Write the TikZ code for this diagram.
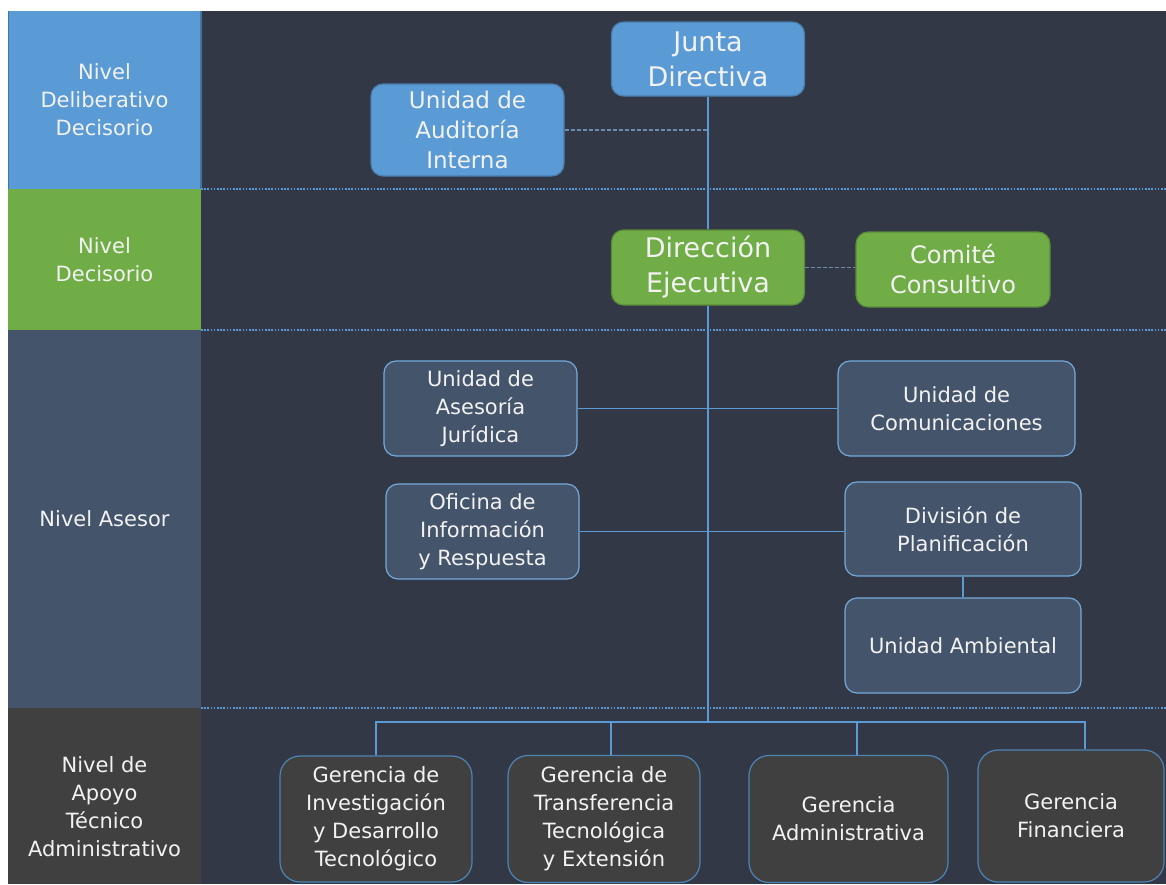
\documentclass[tikz,border=0pt]{standalone}
\usepackage{fontspec}
\setmainfont{DejaVu Sans}
\definecolor{bgc}{HTML}{323846}
\definecolor{lblue}{HTML}{5B9BD5}
\definecolor{lgreen}{HTML}{70AD47}
\definecolor{slate}{HTML}{44546A}
\definecolor{dgray}{HTML}{404040}
\definecolor{txt}{HTML}{F2F2F2}
\definecolor{dashc}{HTML}{6C8BAE}
\pgfdeclarelayer{back}
\pgfsetlayers{back,main}
\tikzset{
  box/.style={rounded corners=12, align=center, text=txt, inner sep=0pt, line width=1.2pt},
  bluebox/.style={box, fill=lblue, draw=lblue!80!black},
  greenbox/.style={box, fill=lgreen, draw=lgreen!80!black},
  slatebox/.style={box, fill=slate, draw=lblue!85!white},
  gerbox/.style={box, rounded corners=20, fill=dgray, draw=lblue!85!black},
  conn/.style={draw=lblue, line width=1.2pt},
  dashconn/.style={draw=dashc, line width=1.2pt, dash pattern=on 4pt off 2pt},
  sepline/.style={draw=lblue, line width=1.6pt, dash pattern=on 1.6pt off 1.6pt},
  lvl/.style={text=txt, align=center, font=\fontsize{21}{28}\selectfont},
  big/.style={font=\fontsize{27}{35}\selectfont},
  mid/.style={font=\fontsize{23}{30}\selectfont},
  norm/.style={font=\fontsize{21}{28}\selectfont},
}
\begin{document}
\begin{tikzpicture}[x=1pt,y=-1pt]
\useasboundingbox (0,0) rectangle (1166,884);
% nodes
\node[bluebox, big, minimum width=193, minimum height=74] (junta) at (708,59) {Junta\\Directiva};
\node[bluebox, mid, minimum width=193, minimum height=92] (audit) at (467.5,130) {Unidad de\\Auditoría\\Interna};
\node[greenbox, big, minimum width=193, minimum height=75] (direccion) at (708,267.5) {Dirección\\Ejecutiva};
\node[greenbox, font=\fontsize{24}{30}\selectfont, minimum width=194, minimum height=75] (comite) at (953,269.5) {Comité\\Consultivo};
\node[slatebox, norm, minimum width=193, minimum height=95] (juridica) at (480.5,408.5) {Unidad de\\Asesoría\\Jurídica};
\node[slatebox, norm, minimum width=237, minimum height=95] (comunic) at (956.5,408.5) {Unidad de\\Comunicaciones};
\node[slatebox, norm, minimum width=193, minimum height=95] (oficina) at (482.5,531.5) {Oficina de\\Información\\y Respuesta};
\node[slatebox, norm, minimum width=236, minimum height=94] (division) at (963,529) {División de\\Planificación};
\node[slatebox, norm, minimum width=236, minimum height=95] (ambiental) at (963,645.5) {Unidad Ambiental};
\node[gerbox, norm, minimum width=192, minimum height=126] (g1) at (376,819) {Gerencia de\\Investigación\\y Desarrollo\\Tecnológico};
\node[gerbox, norm, minimum width=192, minimum height=127] (g2) at (604,819) {Gerencia de\\Transferencia\\Tecnológica\\y Extensión};
\node[gerbox, norm, minimum width=199, minimum height=127] (g3) at (848.5,819) {Gerencia\\Administrativa};
\node[gerbox, norm, minimum width=186, minimum height=132] (g4) at (1071,816) {Gerencia\\Financiera};
% level labels
\node[lvl] (l1) at (104.5,100) {Nivel\\Deliberativo\\Decisorio};
\node[lvl] (l2) at (104.5,260) {Nivel\\Decisorio};
\node[lvl] (l3) at (104.5,519) {Nivel Asesor};
\node[lvl] (l4) at (104.5,807) {Nivel de\\Apoyo\\Técnico\\Administrativo};
\coordinate (bus) at (708,722);
\coordinate (d2) at ([xshift=7]g2.north);
\coordinate (d3) at ([xshift=8.5]g3.north);
\coordinate (d4) at ([xshift=14]g4.north);
\begin{pgfonlayer}{back}
\fill[white] (0,0) rectangle (1166,884);
\fill[bgc] (8,11) rectangle (1166,884);
\fill[lblue] (8,11) rectangle (201,189);
\draw[lblue!75!black, line width=1.2pt] (8.6,11) -- (8.6,189) (201,11) -- (201,189);
\fill[lgreen] (8,189) rectangle (201,330);
\fill[slate] (8,330) rectangle (201,708);
\fill[dgray] (8,708) rectangle (201,884);
\draw[sepline] (201,189) -- (1166,189);
\draw[sepline] (201,330) -- (1166,330);
\draw[sepline] (201,708) -- (1166,708);
% connectors
\draw[conn] (junta.south) -- (direccion.north);
\draw[conn] (direccion.south) -- (bus);
\draw[dashconn] (audit.east) -- (audit.east -| junta.south);
\draw[dashconn] (direccion.east) -- (direccion.east -| comite.west);
\draw[conn] (juridica.east) -- (comunic.west);
\draw[conn] (oficina.east) -- (oficina.east -| division.west);
\draw[conn] (division.south) -- (ambiental.north);
\draw[conn] (g1.north) -- (g1.north |- bus) -- (d4 |- bus) -- (d4);
\draw[conn] (d2 |- bus) -- (d2);
\draw[conn] (d3 |- bus) -- (d3);
\end{pgfonlayer}
\end{tikzpicture}
\end{document}
